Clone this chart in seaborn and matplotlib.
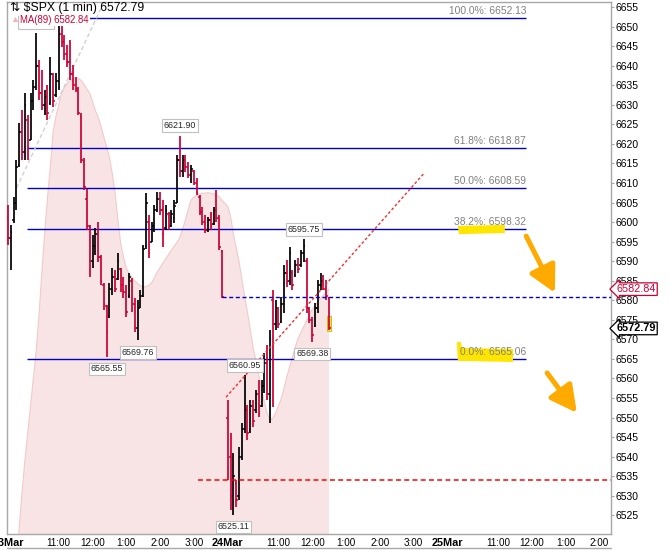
import numpy as np
import pandas as pd
import matplotlib
matplotlib.use('Agg')
import matplotlib.pyplot as plt
import seaborn as sns
from matplotlib.lines import Line2D
from matplotlib.patches import Polygon, Rectangle

# $SPX 1 min, resampled to 5 min bars for drawing
bar_minutes = 5

# 23Mar
hi1 = [6604.4, 6599.2, 6606.4, 6615.9, 6625.3, 6628.7, 6633.0, 6627.4, 6633.0, 6636.3,
       6648.25, 6641.5, 6638.9, 6633.8, 6635.1, 6642.2, 6638.1, 6638.1, 6650.4, 6652.13,
       6647.8, 6645.3, 6646.6, 6640.2, 6637.1, 6634.5, 6628.0, 6616.5, 6608.5, 6599.2,
       6596.7, 6598.5, 6600.0, 6591.6, 6584.4, 6578.8, 6584.4, 6588.2, 6587.7, 6592.1,
       6588.2, 6585.9, 6583.9, 6587.0, 6585.7, 6580.6, 6580.1, 6582.6, 6594.1, 6607.4,
       6601.8, 6600.0, 6604.4, 6607.7, 6607.7, 6605.6, 6604.4, 6602.6, 6603.1, 6605.6,
       6617.2, 6621.90, 6617.2, 6617.2, 6615.4, 6614.6, 6613.3, 6611.3, 6606.9, 6603.8,
       6601.8, 6601.3, 6602.6, 6603.8, 6608.2, 6601.8, 6592.9]
lo1 = [6594.1, 6587.7, 6599.8, 6603.1, 6614.1, 6615.9, 6615.9, 6615.9, 6621.0, 6628.7,
       6633.8, 6631.2, 6628.7, 6627.4, 6626.1, 6629.9, 6629.4, 6632.0, 6633.8, 6644.8,
       6641.5, 6639.7, 6636.3, 6633.8, 6633.3, 6627.4, 6615.1, 6608.2, 6598.0, 6585.9,
       6588.2, 6591.6, 6589.8, 6583.9, 6577.5, 6565.55, 6575.4, 6581.3, 6582.1, 6585.2,
       6582.1, 6580.6, 6575.7, 6580.6, 6577.0, 6571.9, 6569.76, 6578.0, 6580.8, 6593.0,
       6590.8, 6594.9, 6597.5, 6602.6, 6601.8, 6593.6, 6598.0, 6598.0, 6598.7, 6599.8,
       6604.9, 6611.5, 6611.5, 6612.8, 6611.3, 6610.0, 6609.5, 6606.9, 6601.8, 6599.2,
       6597.2, 6597.5, 6598.0, 6599.2, 6600.0, 6592.9, 6580.6]
op1 = [6601.0, 6596.0, 6600.5, 6605.0, 6614.5, 6623.0, 6618.0, 6626.0, 6621.0, 6631.0,
       6634.5, 6640.0, 6633.0, 6630.0, 6632.0, 6630.5, 6638.0, 6632.5, 6636.0, 6648.0,
       6646.0, 6643.0, 6641.0, 6638.0, 6635.0, 6634.0, 6627.0, 6615.5, 6606.0, 6599.0,
       6590.0, 6594.0, 6597.0, 6591.0, 6584.0, 6578.5, 6576.0, 6583.0, 6586.0, 6585.5,
       6588.0, 6584.0, 6582.0, 6581.0, 6585.0, 6579.0, 6573.0, 6578.0, 6581.0, 6594.0,
       6600.0, 6595.0, 6599.0, 6603.0, 6606.0, 6603.0, 6598.5, 6602.0, 6599.0, 6601.0,
       6605.0, 6616.0, 6613.0, 6616.0, 6614.0, 6612.0, 6613.0, 6610.0, 6606.5, 6602.5,
       6600.0, 6598.0, 6600.5, 6599.5, 6603.0, 6601.0, 6592.5]
cl1 = [6596.0, 6597.5, 6605.0, 6614.0, 6623.0, 6618.0, 6630.0, 6619.0, 6631.0, 6634.5,
       6640.0, 6633.0, 6630.0, 6632.0, 6628.0, 6638.0, 6631.0, 6636.0, 6648.0, 6646.0,
       6643.0, 6641.0, 6638.0, 6635.0, 6634.0, 6628.0, 6616.0, 6609.0, 6599.0, 6590.0,
       6594.0, 6597.0, 6591.0, 6585.0, 6579.0, 6572.0, 6583.0, 6586.0, 6583.0, 6590.0,
       6584.0, 6582.0, 6577.0, 6586.0, 6579.0, 6573.0, 6578.0, 6581.0, 6593.0, 6605.0,
       6592.0, 6599.0, 6603.0, 6606.0, 6603.0, 6597.0, 6603.0, 6599.0, 6602.0, 6604.0,
       6616.0, 6613.0, 6616.0, 6614.0, 6612.0, 6613.5, 6610.0, 6607.5, 6602.5, 6600.0,
       6598.0, 6600.5, 6599.0, 6603.0, 6601.0, 6593.5, 6580.8]
ma1 = [np.nan, np.nan, np.nan, 6512, 6522, 6531, 6539, 6546, 6553, 6560,
       6567, 6576, 6587, 6597, 6606, 6614, 6623, 6627, 6630, 6633,
       6634.5, 6635.5, 6636.2, 6636.7, 6636.9, 6636.8, 6636.2, 6635.2, 6634.0, 6633.0,
       6630.8, 6628.5, 6626.9, 6624.5, 6621.8, 6619.3, 6616.5, 6612.5, 6607.5, 6600.5,
       6594.5, 6591.0, 6588.3, 6586.7, 6585.8, 6585.0, 6584.3, 6583.7, 6583.4, 6583.5,
       6583.8, 6584.5, 6585.8, 6587.3, 6588.3, 6589.5, 6590.6, 6591.7, 6592.8, 6593.8,
       6594.8, 6596.0, 6598.3, 6600.6, 6603.3, 6605.6, 6606.4, 6606.9, 6607.2, 6607.4,
       6607.4, 6607.5, 6607.4, 6607.2, 6607.0, 6606.5, 6605.5]

# 24Mar
hi2 = [6554.5, 6546.0, 6540.9, 6534.0, 6542.4, 6548.6, 6560.95, 6553.2, 6554.5, 6554.5,
       6557.0, 6559.6, 6559.6, 6566.5, 6568.5, 6572.4, 6582.6, 6580.1, 6578.3, 6580.8,
       6589.0, 6590.3, 6593.6, 6587.7, 6590.3, 6590.8, 6592.9, 6595.75, 6590.8, 6578.3,
       6575.7, 6579.3, 6585.2, 6587.0, 6586.5, 6585.2, 6580.8]
lo2 = [6534.0, 6526.3, 6525.11, 6527.1, 6528.9, 6539.1, 6546.0, 6544.2, 6546.0, 6547.6,
       6551.2, 6550.1, 6552.7, 6556.3, 6554.5, 6548.6, 6552.7, 6572.4, 6572.9, 6574.2,
       6576.7, 6583.4, 6583.9, 6582.6, 6585.9, 6587.0, 6588.5, 6589.8, 6576.7, 6574.2,
       6569.38, 6573.2, 6576.7, 6582.6, 6582.6, 6580.1, 6572.4]
op2 = [6550.0, 6540.0, 6530.0, 6533.0, 6530.0, 6540.0, 6547.0, 6552.0, 6546.5, 6553.0,
       6552.0, 6556.0, 6553.0, 6558.0, 6564.0, 6556.0, 6580.0, 6574.0, 6578.0, 6574.5,
       6579.0, 6587.0, 6585.0, 6587.0, 6586.5, 6589.0, 6589.0, 6592.0, 6590.0, 6578.0,
       6575.0, 6573.5, 6578.0, 6584.0, 6585.0, 6583.0, 6580.5]
cl2 = [6537.0, 6530.0, 6535.0, 6529.0, 6540.0, 6547.0, 6552.0, 6546.0, 6553.0, 6549.0,
       6556.0, 6551.0, 6558.0, 6564.0, 6556.0, 6570.0, 6574.0, 6578.0, 6574.0, 6579.0,
       6587.0, 6585.0, 6592.0, 6584.0, 6589.0, 6588.0, 6592.0, 6594.0, 6578.0, 6575.0,
       6571.0, 6578.0, 6584.0, 6585.0, 6583.0, 6581.0, 6572.79]
ma2 = [6604.0, 6601.5, 6597.0, 6593.5, 6590.0, 6585.5, 6581.0, 6577.0, 6572.5, 6568.0,
       6564.5, 6561.0, 6557.5, 6554.0, 6551.0, 6549.5, 6549.8, 6551.2, 6553.0, 6554.8,
       6557.5, 6560.5, 6563.0, 6565.5, 6568.0, 6570.3, 6571.8, 6573.2, 6574.8, 6576.3,
       6577.6, 6578.7, 6579.6, 6580.5, 6581.3, 6582.0, 6582.84]

fib_pct = ['100.0%', '61.8%', '50.0%', '38.2%', '0.0%']
fib_val = [6652.13, 6618.87, 6608.59, 6598.32, 6565.06]

last_price = 6572.79
ma_last = 6582.84
prev_close = 6580.8
support = 6534.0

tick_pos = [0, 1.5, 2.5, 3.5, 4.5, 5.5, 6.5, 8, 9, 10, 11, 12, 13, 14.5, 15.5, 16.5, 17.5]
tick_lab = ['23Mar', '11:00', '12:00', '1:00', '2:00', '3:00', '24Mar', '11:00', '12:00',
            '1:00', '2:00', '3:00', '25Mar', '11:00', '12:00', '1:00', '2:00']

# time axis in trading hours (6.5 h per session)
day_len = 6.5
t1 = np.arange(len(hi1)) * bar_minutes / 60
t2 = day_len + np.arange(len(hi2)) * bar_minutes / 60
df = pd.DataFrame({
    't': np.r_[t1, t2],
    'hi': hi1 + hi2, 'lo': lo1 + lo2,
    'op': op1 + op2, 'cl': cl1 + cl2,
    'ma': ma1 + ma2,
})

sns.set_theme(style='white')
plt.rcParams['font.family'] = ['Liberation Sans', 'DejaVu Sans']

RED = '#CC0033'
BLUE = '#0000CC'
GRAY = '#A8A8A8'

fig = plt.figure(figsize=(6.7, 5.5), dpi=100)
ax = fig.add_axes([7 / 670, 16 / 550, 604 / 670, 532 / 550])
ax.set_xlim(-0.03, 17.84)
ax.set_ylim(6520.2, 6656.3)

# MA(89) shaded area
ax.fill_between(df['t'], df['ma'], 6400, color='#F9E4E5', lw=0, zorder=1)
sns.lineplot(data=df, x='t', y='ma', ax=ax, color='#F1CACB', lw=0.8, zorder=1.5)

# fib retracement
for pct, val in zip(fib_pct, fib_val):
    ax.hlines(val, 0.56, 15.33, color=BLUE, lw=1, zorder=2)
    ax.annotate(f'{pct}: {val:.2f}', xy=(15.33, val), xytext=(0, 1.5),
                textcoords='offset points', ha='right', va='bottom',
                fontsize=7.4, color='#808080', zorder=6)

# yellow marker highlights
ax.add_patch(Polygon([(13.31, 6599.0), (14.70, 6599.3), (14.70, 6597.2), (13.34, 6596.9)],
                     closed=True, fc='#FFE600', ec='none', zorder=5))
ax.add_patch(Polygon([(13.28, 6569.3), (13.40, 6569.3), (13.43, 6567.8), (14.94, 6567.5),
                      (14.94, 6564.2), (13.31, 6564.5)],
                     closed=True, fc='#FFE600', ec='none', zorder=5))

# OHLC bars
up = df['cl'] >= df['op']
colors = np.where(up, 'black', RED)
w = 0.045
ax.vlines(df['t'], df['lo'], df['hi'], colors=colors, lw=1.25, zorder=3)
ax.hlines(df['op'], df['t'] - w, df['t'], colors=colors, lw=1.1, zorder=3)
ax.hlines(df['cl'], df['t'], df['t'] + w, colors=colors, lw=1.1, zorder=3)

# last bar highlight
tl = df['t'].iloc[-1]
ax.add_patch(Rectangle((tl - 0.07, 6572.1), 0.14, 3.9, fc='#FFE94A', ec='#C8B400',
                       lw=0.6, zorder=2.8))

# horizontal dashed levels
ax.hlines(prev_close, t1[-1], 17.84, color=BLUE, lw=1, linestyles=(0, (2.9, 1.9)), zorder=4)
ax.hlines(support, 5.62, 17.84, color='#FF0000', lw=1.1, linestyles=(0, (3.2, 2.2)), zorder=4)

# trend lines
ax.plot([6.45, 12.31], [6555.2, 6612.5], color='#F03030', lw=1, ls=(0, (2, 1.6)), zorder=4)
ax.plot([0.25, 2.84], [6608.7, 6656.3], color='#D0D0D0', lw=1, ls=(0, (3, 2)), zorder=2)

# orange arrows
for tail, head in [((15.33, 6596.4), (16.18, 6581.9)), ((15.95, 6561.4), (16.83, 6551.2))]:
    ax.annotate('', xy=head, xytext=tail,
                arrowprops=dict(arrowstyle='-|>,head_length=0.8,head_width=0.42',
                                color='#FFAA00', lw=3.6, mutation_scale=20,
                                shrinkA=0, shrinkB=0), zorder=6)

# high / low labels
box = dict(boxstyle='square,pad=0.2', fc='white', ec='#C0C0C0', lw=0.8)
highs = [(10, hi1), (61, hi1)]
lows = [(35, lo1), (46, lo1)]
for i, arr in highs:
    ax.annotate(f'{arr[i]:.2f}', xy=(t1[i], arr[i]), xytext=(0, 4.5), textcoords='offset points',
                ha='center', va='bottom', fontsize=6.4, bbox=box, zorder=7)
for i, arr in lows:
    ax.annotate(f'{arr[i]:.2f}', xy=(t1[i], arr[i]), xytext=(0, -5.5), textcoords='offset points',
                ha='center', va='top', fontsize=6.4, bbox=box, zorder=7)
for i in [6, 27]:
    ax.annotate(f'{hi2[i]:.2f}', xy=(t2[i], hi2[i]), xytext=(0, 3.5), textcoords='offset points',
                ha='center', va='bottom', fontsize=6.4, bbox=box, zorder=7)
for i in [2, 30]:
    ax.annotate(f'{lo2[i]:.2f}', xy=(t2[i], lo2[i]), xytext=(0, -5.5), textcoords='offset points',
                ha='center', va='top', fontsize=6.4, bbox=box, zorder=7)

# axes styling
ax.yaxis.tick_right()
ax.set_yticks(np.arange(6525, 6656, 5))
ax.tick_params(axis='y', right=True, length=2.5, width=0.8, color=GRAY, pad=1,
               labelsize=7.5, labelcolor='black')
ax.set_xticks(tick_pos)
ax.set_xticklabels(tick_lab)
ax.tick_params(axis='x', bottom=True, length=0, pad=3, labelsize=7.1, labelcolor='black')
for lab in ax.get_xticklabels():
    if 'Mar' in lab.get_text():
        lab.set_fontweight('bold')
        lab.set_fontsize(7.8)
ax.set_xlabel('')
ax.set_ylabel('')
for s in ax.spines.values():
    s.set_color(GRAY)
    s.set_linewidth(1)

# price tags on the right
ax.annotate(f'{ma_last:.2f}', xy=(1, ma_last), xycoords=ax.get_yaxis_transform(),
            xytext=(4, 0), textcoords='offset points', ha='left', va='center',
            fontsize=7.8, color=RED, annotation_clip=False,
            bbox=dict(boxstyle='larrow,pad=0.12', fc='white', ec=RED, lw=0.9))
ax.annotate(f'{last_price:.2f}', xy=(1, last_price), xycoords=ax.get_yaxis_transform(),
            xytext=(4, 0), textcoords='offset points', ha='left', va='center',
            fontsize=7.8, color='black', fontweight='bold', annotation_clip=False,
            bbox=dict(boxstyle='larrow,pad=0.12', fc='white', ec='black', lw=0.9))

# title / legend block
fig.text(10 / 670, 1 - 8.5 / 550, f'⇅ $SPX (1 min) {last_price:.2f}', fontsize=8.8,
         color='black', va='center', ha='left')
fig.text(10 / 670, 1 - 20 / 550, '▲', fontsize=6.5, color='#F0B4B4', va='center', ha='left')
fig.text(20 / 670, 1 - 20 / 550, f'MA(89) {ma_last:.2f}', fontsize=6.9, color=RED,
         va='center', ha='left',
         bbox=dict(boxstyle='square,pad=0.1', fc='white', ec='none'))

# top edge of the panel below
fig.add_artist(Line2D([7 / 670, 611 / 670], [2 / 550, 2 / 550], color=GRAY, lw=1))

fig.savefig('out.png', dpi=100)
